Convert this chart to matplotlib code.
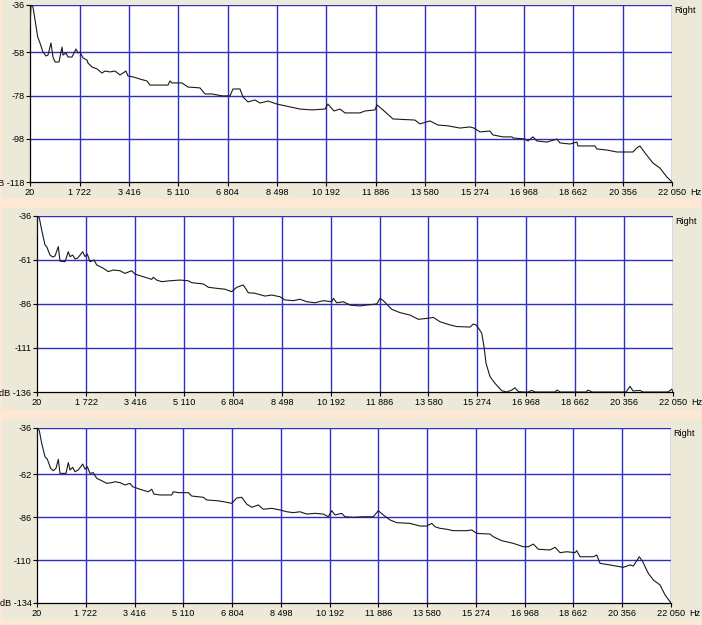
import matplotlib
matplotlib.use("Agg")
import matplotlib.pyplot as plt
from matplotlib.patches import Rectangle

plt.rcParams['font.family'] = ['Liberation Sans', 'DejaVu Sans']

# ---------------- data ----------------
x_ticks = [20, 1722, 3416, 5110, 6804, 8498, 10192, 11886, 13580, 15274, 16968, 18662, 20356, 22050]
x_labels = ["20", "1 722", "3 416", "5 110", "6 804", "8 498", "10 192", "11 886",
            "13 580", "15 274", "16 968", "18 662", "20 356", "22 050"]

y_ticks1 = [-36, -58, -78, -98, -118]
y_ticks2 = [-36, -61, -86, -111, -136]
y_ticks3 = [-36, -62, -86, -110, -134]

freq1 = [20, 54, 123, 192, 284, 363, 466, 569, 638, 740, 809, 878, 1015, 1118, 1152, 1255, 1324,
         1461, 1598, 1667, 1736, 1838, 1976, 2010, 2147, 2319, 2490, 2593, 2765, 2936, 3108, 3314,
         3382, 3554, 3794, 4034, 4137, 4755, 4824, 4892, 5235, 5441, 5853, 6024, 6264, 6608, 6882,
         6985, 7225, 7328, 7500, 7740, 7911, 8186, 8495, 8941, 9284, 9695, 10141, 10244, 10451,
         10656, 10828, 11342, 11514, 11857, 11926, 12131, 12475, 13229, 13401, 13744, 14018, 14362,
         14773, 15116, 15253, 15460, 15803, 15905, 16249, 16557, 16592, 17004, 17107, 17278, 17415,
         17758, 18101, 18204, 18547, 18787, 18822, 19405, 19474, 19817, 20160, 20366, 20709, 20846,
         20949, 21121, 21395, 21635, 21875, 22050]
db1 = [-46.7, -36.0, -36.9, -42.9, -50.8, -53.6, -57.8, -59.6, -59.2, -53.6, -60.1, -62.4, -62.4,
       -55.5, -59.2, -58.2, -60.1, -60.1, -56.4, -58.2, -57.8, -60.5, -61.5, -62.9, -64.7, -65.6,
       -67.5, -66.6, -67.0, -66.6, -68.4, -66.6, -68.9, -69.3, -70.3, -71.2, -73.1, -73.1, -71.2,
       -72.1, -72.1, -74.0, -74.4, -77.2, -77.2, -78.1, -78.1, -74.9, -74.9, -78.6, -80.9, -80.0,
       -81.4, -80.5, -81.9, -83.2, -84.2, -84.6, -84.2, -81.9, -85.1, -84.2, -86.0, -86.0, -85.1,
       -84.6, -82.3, -84.6, -88.8, -89.3, -91.1, -89.7, -91.6, -92.0, -93.0, -92.5, -93.0, -94.8,
       -94.4, -96.2, -97.1, -97.1, -97.6, -98.1, -99.0, -97.1, -99.0, -99.5, -98.1, -99.9, -100.4,
       -99.5, -101.3, -101.3, -102.7, -103.2, -104.1, -104.1, -104.1, -102.2, -101.3, -104.5,
       -109.2, -111.5, -115.7, -118.0]

freq2 = [20, 30, 100, 183, 297, 356, 470, 564, 644, 758, 817, 990, 1104, 1163, 1257, 1336, 1430,
         1603, 1683, 1762, 1856, 1994, 2088, 2317, 2490, 2663, 2895, 3068, 3300, 3415, 3702, 3993,
         4049, 4166, 4340, 4627, 4974, 5261, 5379, 5781, 5954, 6245, 6532, 6764, 6938, 7166, 7339,
         7571, 7918, 8150, 8437, 8611, 8898, 9130, 9362, 9650, 9937, 10228, 10284, 10402, 10630,
         10862, 11209, 11441, 11787, 11902, 12016, 12307, 12594, 12941, 13228, 13574, 13748, 13980,
         14326, 14558, 15019, 15134, 15227, 15307, 15425, 15504, 15574, 15712, 15886, 16118, 16291,
         16464, 16578, 16693, 16866, 17028, 17156, 17271, 17964, 18033, 18137, 19038, 19107, 19246,
         20423, 20562, 20666, 20908, 21012, 21878, 22007, 22050]
db2 = [-46.8, -36.0, -37.1, -44.0, -52.5, -53.4, -58.2, -59.3, -58.7, -53.4, -61.6, -62.0, -56.3,
       -59.1, -58.2, -60.4, -59.9, -56.3, -59.1, -57.6, -62.0, -61.0, -63.8, -65.7, -67.6, -66.7,
       -67.1, -68.6, -67.1, -69.0, -70.5, -72.0, -70.8, -72.4, -73.3, -72.8, -72.4, -72.8, -73.9,
       -74.6, -76.5, -77.1, -77.6, -79.0, -76.5, -75.2, -79.6, -79.9, -81.5, -80.9, -81.9, -83.7,
       -84.1, -83.3, -84.7, -85.3, -84.1, -84.7, -82.8, -85.3, -84.7, -86.6, -87.1, -86.6, -86.0,
       -82.8, -84.1, -89.0, -90.9, -92.3, -94.7, -94.1, -93.6, -96.1, -97.9, -98.8, -99.1, -97.4,
       -97.9, -99.6, -102.6, -110.3, -119.7, -127.3, -131.1, -135.3, -136.0, -134.9, -133.6,
       -135.8, -136.0, -136.0, -135.1, -136.0, -136.0, -134.9, -136.0, -136.0, -134.9, -136.0,
       -136.0, -132.8, -135.4, -135.1, -136.0, -136.0, -134.4, -136.0]

freq3 = [20, 30, 100, 183, 298, 378, 496, 586, 680, 760, 819, 1028, 1108, 1167, 1261, 1341, 1455,
         1608, 1688, 1768, 1862, 1976, 2095, 2268, 2442, 2616, 2731, 2904, 3078, 3252, 3346, 3599,
         3888, 4006, 4086, 4294, 4701, 4756, 4930, 5278, 5396, 5799, 5917, 6264, 6518, 6786, 6960,
         7133, 7307, 7481, 7710, 7884, 8176, 8464, 8697, 8926, 9159, 9392, 9680, 9969, 10143, 10261,
         10376, 10608, 10723, 11011, 11359, 11706, 11880, 12054, 12287, 12520, 12982, 13329, 13562,
         13736, 13851, 14024, 14257, 14486, 14952, 15126, 15300, 15762, 15876, 16168, 16571, 16919,
         17093, 17267, 17440, 17847, 18021, 18195, 18427, 18716, 18775, 18889, 19352, 19469, 19584,
         19932, 20279, 20394, 20627, 20741, 20950, 21068, 21262, 21436, 21669, 21843, 22041, 22050]
db3 = [-46.1, -36.0, -37.5, -44.6, -52.1, -53.5, -58.6, -59.9, -58.6, -53.5, -61.4, -61.4, -55.4,
       -59.5, -58.0, -60.5, -59.5, -56.2, -59.1, -57.7, -61.4, -61.0, -64.2, -65.5, -67.0, -66.6,
       -66.1, -66.6, -67.9, -67.0, -68.9, -70.3, -71.7, -70.3, -73.0, -73.5, -73.5, -71.7, -72.2,
       -72.2, -74.1, -74.8, -76.3, -76.7, -77.3, -78.2, -75.2, -74.8, -78.6, -80.4, -79.1, -81.5,
       -81.0, -81.9, -82.9, -83.4, -82.9, -84.2, -83.8, -84.2, -85.7, -82.3, -84.7, -83.8, -85.7,
       -86.0, -85.7, -85.7, -82.3, -84.7, -87.5, -89.0, -89.4, -90.9, -90.9, -89.4, -91.3, -92.2,
       -92.7, -93.5, -93.5, -93.1, -95.0, -95.4, -96.9, -99.1, -100.6, -102.5, -102.5, -101.0,
       -103.9, -104.3, -102.8, -105.8, -105.3, -105.8, -104.7, -108.1, -108.1, -107.1, -111.8,
       -112.7, -113.7, -114.0, -112.7, -113.3, -108.1, -110.9, -117.4, -121.1, -123.9, -129.5,
       -133.8, -134.0]

# ---------------- styling ----------------
W, H = 702, 625
PEACH = '#FCE8D3'
GRAY = '#ECE9D8'
GRID = '#2E2EC4'
FS = 6.6

fig = plt.figure(figsize=(W / 100, H / 100), dpi=100, facecolor=PEACH)

# gray panel backgrounds (pixel rows)
for (y0, y1) in [(0, 198), (208, 410), (419, 620)]:
    fig.patches.append(Rectangle((2 / W, 1 - y1 / H), 1 - 2 / W, (y1 - y0) / H,
                                 transform=fig.transFigure, facecolor=GRAY,
                                 edgecolor='none', zorder=-10))

panels = [
    ((30, 672, 5, 182), freq1, db1, y_ticks1),
    ((37, 673, 216, 392), freq2, db2, y_ticks2),
    ((37, 671, 428, 603), freq3, db3, y_ticks3),
]

for (l, r, t, b), fr, db, yt in panels:
    ax = fig.add_axes([l / W, 1 - b / H, (r - l) / W, (b - t) / H], zorder=5)
    ax.set_facecolor('#FFFFFF')
    ax.set_xlim(x_ticks[0], x_ticks[-1])
    ax.set_ylim(yt[-1], yt[0])
    # grid
    for xv in x_ticks[1:]:
        ax.axvline(xv, color=GRID, lw=1.0, zorder=1)
    for yv in yt[:-1]:
        ax.axhline(yv, color=GRID, lw=1.0, zorder=1)
    ax.plot(fr, db, color='#1a1a1a', lw=0.8, zorder=3)

    ax.spines['top'].set_visible(False)
    ax.spines['right'].set_visible(False)
    ax.spines['left'].set_color('black')
    ax.spines['bottom'].set_color('black')
    ax.spines['left'].set_linewidth(0.9)
    ax.spines['bottom'].set_linewidth(0.9)

    ax.set_xticks(x_ticks)
    ax.set_xticklabels(x_labels, fontsize=FS)
    ax.set_yticks(yt)
    ylabels = [str(v) for v in yt]
    ylabels[-1] = 'dB ' + ylabels[-1]
    ax.set_yticklabels(ylabels, fontsize=FS)
    ax.tick_params(axis='both', direction='out', length=3, width=0.8, colors='black', pad=1.5)
    ax.tick_params(axis='y', pad=1)

    ax.text(1.004, 0.995, 'Right', transform=ax.transAxes, fontsize=FS,
            ha='left', va='top')
    ax.annotate('Hz', xy=(1.0, 0), xycoords='axes fraction', xytext=(13, -4.5),
                textcoords='offset points', fontsize=FS, ha='left', va='top')

fig.savefig('out.png', dpi=100, facecolor=PEACH)
